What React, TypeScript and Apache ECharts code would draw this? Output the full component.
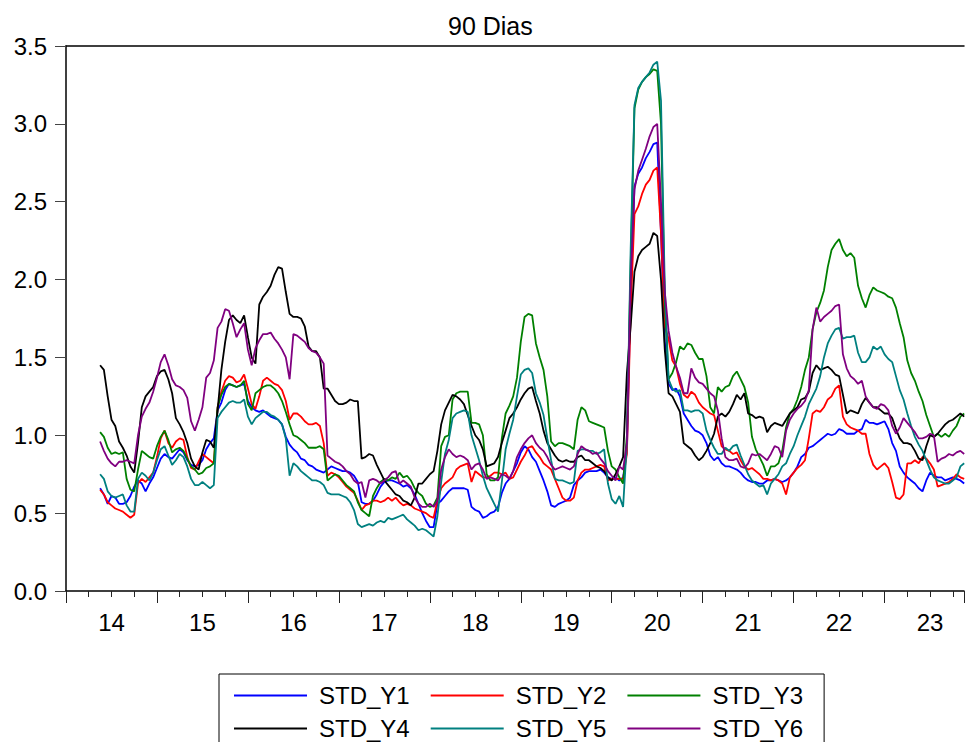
import React, { useEffect, useRef } from "react";
import * as echarts from "echarts";

const TITLE = "90 Dias";
const SERIES_NAMES = ["STD_Y1", "STD_Y2", "STD_Y3", "STD_Y4", "STD_Y5", "STD_Y6"];
const SERIES_COLORS = ["#0000ff", "#ff0000", "#008000", "#000000", "#008080", "#800080"];
const X_TICK_LABELS = ["14", "15", "16", "17", "18", "19", "20", "21", "22", "23"];
const FIRST_YEAR = 2014;
const X_MAX = 2023.873;
// half-month observations starting mid-May 2014
const START = 2014.375;
const STEP = 1 / 24;

const STD_Y1 = [
  0.66, 0.62, 0.56, 0.61, 0.60, 0.56, 0.56, 0.57, 0.61, 0.67,
  0.71, 0.69, 0.64, 0.69, 0.73, 0.79, 0.85, 0.88, 0.86, 0.85,
  0.88, 0.91, 0.89, 0.84, 0.81, 0.80, 0.81, 0.84, 0.91, 0.95,
  0.98, 1.16, 1.21, 1.29, 1.33, 1.32, 1.31, 1.32, 1.33, 1.22,
  1.18, 1.16, 1.15, 1.16, 1.14, 1.12, 1.11, 1.10, 1.07, 0.99,
  0.94, 0.91, 0.89, 0.85, 0.84, 0.81, 0.80, 0.78, 0.77, 0.76,
  0.78, 0.80, 0.79, 0.78, 0.77, 0.77, 0.76, 0.74, 0.70, 0.57,
  0.56, 0.56, 0.58, 0.62, 0.67, 0.70, 0.71, 0.71, 0.70, 0.69,
  0.67, 0.68, 0.66, 0.62, 0.56, 0.50, 0.45, 0.41, 0.41, 0.56,
  0.58, 0.61, 0.64, 0.66, 0.66, 0.66, 0.66, 0.65, 0.54, 0.52,
  0.51, 0.47, 0.48, 0.50, 0.51, 0.54, 0.63, 0.69, 0.72, 0.77,
  0.82, 0.89, 0.93, 0.91, 0.86, 0.83, 0.77, 0.71, 0.64, 0.55,
  0.54, 0.56, 0.57, 0.58, 0.60, 0.68, 0.71, 0.73, 0.76, 0.77,
  0.77, 0.77, 0.78, 0.76, 0.73, 0.72, 0.73, 0.71, 0.73, 0.90,
  1.90, 2.60, 2.68, 2.72, 2.78, 2.82, 2.87, 2.88, 2.30, 1.60,
  1.33, 1.29, 1.30, 1.25, 1.14, 1.10, 1.06, 1.03, 1.02, 1.00,
  0.95, 0.87, 0.84, 0.86, 0.82, 0.80, 0.80, 0.79, 0.78, 0.76,
  0.73, 0.71, 0.70, 0.70, 0.69, 0.69, 0.71, 0.71, 0.72, 0.71,
  0.70, 0.71, 0.73, 0.76, 0.80, 0.86, 0.88, 0.92, 0.93, 0.95,
  0.97, 0.99, 1.01, 1.00, 1.01, 1.04, 1.03, 1.01, 1.01, 1.01,
  1.03, 1.04, 1.10, 1.08, 1.08, 1.07, 1.08, 1.09, 1.04, 0.95,
  0.90, 0.80, 0.76, 0.73, 0.71, 0.69, 0.66, 0.64, 0.71, 0.76,
  0.74, 0.73, 0.73, 0.71, 0.72, 0.73, 0.72, 0.71, 0.69,
];

const STD_Y2 = [
  0.65, 0.62, 0.57, 0.55, 0.53, 0.52, 0.51, 0.49, 0.47, 0.49,
  0.69, 0.72, 0.70, 0.73, 0.76, 0.86, 0.98, 1.03, 0.95, 0.92,
  0.96, 0.98, 0.97, 0.86, 0.79, 0.78, 0.83, 0.88, 0.86, 0.84,
  0.82, 1.18, 1.28, 1.35, 1.38, 1.37, 1.34, 1.35, 1.39, 1.30,
  1.20, 1.17, 1.25, 1.35, 1.37, 1.35, 1.33, 1.32, 1.29, 1.22,
  1.10, 1.14, 1.14, 1.12, 1.09, 1.07, 1.07, 1.08, 1.06, 0.95,
  0.74, 0.76, 0.75, 0.73, 0.70, 0.67, 0.65, 0.63, 0.58, 0.52,
  0.55, 0.56, 0.58, 0.58, 0.57, 0.58, 0.60, 0.58, 0.60, 0.57,
  0.55, 0.56, 0.55, 0.53, 0.52, 0.51, 0.50, 0.48, 0.47, 0.58,
  0.66, 0.69, 0.71, 0.73, 0.78, 0.80, 0.81, 0.82, 0.70, 0.77,
  0.75, 0.73, 0.73, 0.74, 0.76, 0.76, 0.75, 0.76, 0.72, 0.73,
  0.78, 0.83, 0.87, 0.92, 0.93, 0.89, 0.86, 0.82, 0.80, 0.78,
  0.72, 0.66, 0.60, 0.58, 0.58, 0.60, 0.71, 0.76, 0.78, 0.78,
  0.79, 0.80, 0.81, 0.80, 0.71, 0.72, 0.72, 0.72, 0.72, 0.88,
  1.80, 2.42, 2.47, 2.55, 2.61, 2.64, 2.70, 2.72, 2.30, 1.70,
  1.62, 1.48, 1.44, 1.33, 1.26, 1.24, 1.28, 1.26, 1.21, 1.18,
  1.16, 1.14, 1.13, 1.03, 0.93, 0.91, 0.90, 0.88, 0.89, 0.84,
  0.80, 0.78, 0.79, 0.77, 0.75, 0.72, 0.72, 0.71, 0.72, 0.71,
  0.69, 0.62, 0.73, 0.76, 0.79, 0.81, 0.84, 0.98, 1.14, 1.16,
  1.15, 1.18, 1.23, 1.25, 1.30, 1.32, 1.12, 1.07, 1.05, 1.04,
  1.03, 1.01, 1.01, 0.88, 0.81, 0.78, 0.80, 0.82, 0.79, 0.70,
  0.60, 0.59, 0.62, 0.82, 0.82, 0.84, 0.82, 0.86, 0.85, 0.82,
  0.78, 0.67, 0.68, 0.69, 0.70, 0.72, 0.75, 0.73, 0.72,
];

const STD_Y3 = [
  1.02, 0.99, 0.92, 0.88, 0.89, 0.88, 0.89, 0.72, 0.65, 0.64,
  0.78, 0.90, 0.88, 0.86, 0.85, 0.93, 0.99, 1.03, 0.97, 0.89,
  0.91, 0.92, 0.90, 0.85, 0.80, 0.78, 0.75, 0.76, 0.79, 0.80,
  0.82, 1.18, 1.26, 1.31, 1.33, 1.32, 1.31, 1.32, 1.35, 1.20,
  1.16, 1.27, 1.29, 1.31, 1.32, 1.32, 1.30, 1.27, 1.22, 1.15,
  1.07, 1.00, 0.99, 0.97, 0.95, 0.92, 0.92, 0.92, 0.93, 0.91,
  0.71, 0.73, 0.75, 0.74, 0.71, 0.68, 0.66, 0.64, 0.57, 0.52,
  0.50, 0.48, 0.61, 0.66, 0.70, 0.72, 0.71, 0.73, 0.72, 0.76,
  0.73, 0.74, 0.71, 0.66, 0.63, 0.61, 0.56, 0.54, 0.55, 0.60,
  0.93, 0.99, 1.00, 1.23, 1.27, 1.28, 1.28, 1.28, 1.08, 1.08,
  1.07, 1.00, 0.75, 0.71, 0.71, 0.73, 0.98, 1.14, 1.19, 1.25,
  1.37, 1.60, 1.76, 1.78, 1.77, 1.59, 1.50, 1.42, 1.25, 0.96,
  0.93, 0.95, 0.95, 0.94, 0.93, 0.91, 1.10, 1.18, 1.16, 1.09,
  1.08, 1.07, 1.06, 1.05, 0.90, 0.80, 0.78, 0.73, 0.69, 1.00,
  2.10, 3.10, 3.22, 3.27, 3.30, 3.32, 3.35, 3.34, 3.00, 1.85,
  1.36, 1.40, 1.47, 1.57, 1.55, 1.59, 1.58, 1.53, 1.49, 1.49,
  1.38, 1.18, 1.14, 1.31, 1.28, 1.31, 1.32, 1.38, 1.41, 1.36,
  1.31, 1.21, 0.99, 0.91, 0.86, 0.81, 0.74, 0.80, 0.80, 0.82,
  0.90, 1.05, 1.14, 1.17, 1.23, 1.31, 1.42, 1.50, 1.68, 1.79,
  1.85, 1.93, 2.08, 2.19, 2.23, 2.26, 2.19, 2.15, 2.17, 2.14,
  1.96, 1.88, 1.82, 1.90, 1.95, 1.93, 1.92, 1.91, 1.89, 1.88,
  1.82, 1.72, 1.63, 1.48, 1.40, 1.35, 1.28, 1.22, 1.13, 1.06,
  0.99, 1.01, 0.99, 1.01, 0.99, 1.03, 1.06, 1.12, 1.14,
];

const STD_Y4 = [
  1.45, 1.42, 1.25, 1.10, 1.06, 0.96, 0.92, 0.87, 0.80, 0.76,
  0.95, 1.18, 1.25, 1.28, 1.31, 1.38, 1.41, 1.42, 1.36, 1.27,
  1.11, 1.07, 1.02, 0.95, 0.85, 0.80, 0.78, 0.89, 0.97, 0.96,
  0.92, 1.16, 1.42, 1.60, 1.74, 1.77, 1.74, 1.72, 1.77, 1.63,
  1.50, 1.46, 1.84, 1.89, 1.92, 1.96, 2.03, 2.08, 2.07, 1.92,
  1.78, 1.76, 1.76, 1.75, 1.70, 1.57, 1.54, 1.54, 1.50, 1.30,
  1.30, 1.26, 1.22, 1.20, 1.20, 1.21, 1.23, 1.22, 1.22, 0.85,
  0.86, 0.88, 0.87, 0.81, 0.76, 0.71, 0.68, 0.65, 0.62, 0.61,
  0.58, 0.57, 0.55, 0.60, 0.69, 0.69, 0.72, 0.75, 0.77, 0.90,
  1.07, 1.16, 1.21, 1.26, 1.25, 1.23, 1.20, 1.13, 1.06, 1.00,
  0.97, 0.91, 0.80, 0.81, 0.82, 0.86, 0.95, 1.03, 1.11, 1.14,
  1.18, 1.23, 1.27, 1.30, 1.31, 1.22, 1.14, 1.03, 0.95, 0.91,
  0.87, 0.84, 0.83, 0.84, 0.83, 0.83, 0.86, 0.87, 0.84, 0.84,
  0.82, 0.80, 0.79, 0.77, 0.73, 0.71, 0.75, 0.80, 0.86, 1.40,
  1.70, 2.05, 2.15, 2.19, 2.21, 2.23, 2.30, 2.28, 2.00, 1.55,
  1.27, 1.25, 1.20, 1.15, 0.95, 0.93, 0.91, 0.87, 0.84, 0.86,
  0.90, 0.95, 1.01, 1.12, 1.14, 1.12, 1.15, 1.20, 1.26, 1.23,
  1.27, 1.14, 1.13, 1.11, 1.12, 1.11, 1.02, 1.06, 1.08, 1.07,
  1.06, 1.10, 1.14, 1.16, 1.18, 1.23, 1.24, 1.28, 1.40, 1.45,
  1.42, 1.43, 1.44, 1.42, 1.39, 1.38, 1.26, 1.14, 1.16, 1.15,
  1.14, 1.20, 1.24, 1.21, 1.18, 1.18, 1.16, 1.14, 1.14, 1.11,
  1.04, 0.98, 0.95, 0.95, 0.94, 0.90, 0.85, 0.84, 0.93, 1.00,
  0.99, 1.01, 1.04, 1.07, 1.09, 1.10, 1.12, 1.14, 1.12,
];

const STD_Y5 = [
  0.75, 0.72, 0.64, 0.61, 0.60, 0.61, 0.62, 0.55, 0.51, 0.51,
  0.72, 0.76, 0.74, 0.71, 0.76, 0.84, 0.91, 0.93, 0.87, 0.81,
  0.84, 0.88, 0.86, 0.80, 0.72, 0.68, 0.68, 0.70, 0.68, 0.66,
  0.68, 1.11, 1.15, 1.18, 1.21, 1.22, 1.21, 1.21, 1.23, 1.12,
  1.07, 1.11, 1.13, 1.15, 1.15, 1.13, 1.12, 1.10, 1.07, 0.98,
  0.74, 0.82, 0.80, 0.77, 0.75, 0.73, 0.71, 0.71, 0.70, 0.68,
  0.63, 0.62, 0.62, 0.62, 0.61, 0.60, 0.57, 0.52, 0.43, 0.41,
  0.42, 0.43, 0.42, 0.44, 0.45, 0.44, 0.47, 0.46, 0.47, 0.48,
  0.49, 0.46, 0.44, 0.42, 0.39, 0.40, 0.39, 0.37, 0.35, 0.48,
  0.70, 0.88, 0.97, 1.11, 1.14, 1.15, 1.16, 1.15, 1.00, 0.92,
  0.84, 0.74, 0.66, 0.61, 0.56, 0.51, 0.70, 0.91, 1.01, 1.10,
  1.25, 1.39, 1.42, 1.43, 1.40, 1.27, 1.21, 1.13, 0.98, 0.84,
  0.72, 0.71, 0.71, 0.70, 0.69, 0.70, 0.90, 0.91, 0.91, 0.90,
  0.90, 0.88, 0.89, 0.91, 0.69, 0.59, 0.56, 0.61, 0.54, 0.95,
  2.20, 3.12, 3.23, 3.27, 3.30, 3.33, 3.38, 3.40, 3.15, 1.95,
  1.36, 1.30, 1.28, 1.29, 1.16, 1.16, 1.15, 1.16, 1.16, 1.14,
  1.03, 0.97, 0.92, 0.88, 0.88, 0.92, 0.90, 0.93, 0.94, 0.87,
  0.81, 0.75, 0.71, 0.69, 0.67, 0.68, 0.62, 0.69, 0.72, 0.75,
  0.80, 0.82, 0.88, 0.93, 1.00, 1.06, 1.12, 1.20, 1.25, 1.30,
  1.38, 1.50, 1.59, 1.64, 1.68, 1.69, 1.62, 1.63, 1.63, 1.64,
  1.53, 1.47, 1.47, 1.50, 1.57, 1.55, 1.57, 1.52, 1.49, 1.47,
  1.38, 1.29, 1.23, 1.14, 1.06, 0.99, 0.94, 0.90, 0.84, 0.78,
  0.73, 0.71, 0.70, 0.69, 0.69, 0.71, 0.73, 0.80, 0.82,
];

const STD_Y6 = [
  0.96, 0.90, 0.85, 0.82, 0.80, 0.83, 0.83, 0.84, 0.83, 0.82,
  1.00, 1.12, 1.17, 1.21, 1.28, 1.37, 1.47, 1.52, 1.45, 1.36,
  1.32, 1.31, 1.29, 1.24, 1.09, 1.03, 1.10, 1.18, 1.37, 1.40,
  1.48, 1.69, 1.73, 1.81, 1.80, 1.72, 1.63, 1.68, 1.72, 1.55,
  1.45, 1.56, 1.61, 1.65, 1.65, 1.66, 1.62, 1.59, 1.55, 1.50,
  1.36, 1.65, 1.64, 1.62, 1.60, 1.56, 1.54, 1.53, 1.50, 1.46,
  0.87, 0.85, 0.83, 0.82, 0.80, 0.77, 0.75, 0.71, 0.69, 0.70,
  0.60, 0.71, 0.72, 0.71, 0.69, 0.71, 0.73, 0.76, 0.77, 0.69,
  0.71, 0.69, 0.67, 0.60, 0.56, 0.54, 0.54, 0.56, 0.54, 0.58,
  0.78, 0.86, 0.91, 0.88, 0.86, 0.87, 0.86, 0.84, 0.78, 0.81,
  0.82, 0.78, 0.72, 0.73, 0.72, 0.71, 0.75, 0.74, 0.72, 0.77,
  0.86, 0.91, 0.95, 0.98, 1.00, 0.95, 0.92, 0.90, 0.86, 0.81,
  0.78, 0.79, 0.80, 0.79, 0.78, 0.80, 0.88, 0.93, 0.91, 0.90,
  0.88, 0.89, 0.85, 0.82, 0.77, 0.74, 0.71, 0.80, 0.78, 0.95,
  2.00, 2.58, 2.70, 2.77, 2.84, 2.92, 2.98, 3.00, 2.50, 1.92,
  1.67, 1.53, 1.44, 1.37, 1.27, 1.27, 1.43, 1.37, 1.34, 1.33,
  1.30, 1.27, 1.25, 1.16, 0.98, 0.86, 0.84, 0.84, 0.85, 0.80,
  0.79, 0.82, 0.88, 0.87, 0.88, 0.86, 0.84, 0.88, 0.93, 0.92,
  0.86, 1.03, 1.10, 1.14, 1.17, 1.19, 1.22, 1.29, 1.68, 1.82,
  1.73, 1.76, 1.78, 1.80, 1.83, 1.84, 1.52, 1.43, 1.38, 1.36,
  1.33, 1.35, 1.25, 1.21, 1.18, 1.17, 1.20, 1.19, 1.16, 1.06,
  1.01, 1.05, 1.11, 1.08, 1.05, 1.02, 0.98, 0.98, 0.99, 1.01,
  1.00, 0.83, 0.85, 0.86, 0.88, 0.87, 0.89, 0.90, 0.88,
];

const SERIES_VALUES = [STD_Y1, STD_Y2, STD_Y3, STD_Y4, STD_Y5, STD_Y6];

const FONT = "'Liberation Sans', Arial, Helvetica, sans-serif";

export default function App() {
  const ref = useRef<HTMLDivElement>(null);

  useEffect(() => {
    if (!ref.current) return;
    const chart = echarts.init(ref.current, undefined, { renderer: "svg" });

    const axisLineStyle = { color: "#000", width: 1.5 };

    const option: any = {
      animation: false,
      backgroundColor: "#ffffff",
      textStyle: { fontFamily: FONT },
      title: {
        text: TITLE,
        left: 448,
        top: 13,
        padding: 0,
        textStyle: { fontFamily: FONT, fontSize: 25, fontWeight: "normal", color: "#000" },
      },
      grid: { left: 66, right: 0, top: 46, bottom: 151, containLabel: false },
      legend: {
        data: SERIES_NAMES.map((name) => ({ name, icon: "rect" })),
        left: 219,
        top: 674,
        width: 640,
        orient: "horizontal",
        padding: [5, 0, 12, 15],
        itemGap: 0,
        itemWidth: 73,
        itemHeight: 2,
        borderColor: "#000",
        borderWidth: 1,
        selectedMode: false,
        textStyle: {
          fontFamily: FONT,
          fontSize: 24,
          color: "#000",
          lineHeight: 33,
          padding: [0, 21, 0, 7],
        },
      },
      xAxis: [
        {
          type: "value",
          position: "bottom",
          min: FIRST_YEAR,
          max: X_MAX,
          interval: 0.25,
          axisLine: { show: true, onZero: false, lineStyle: axisLineStyle },
          axisTick: { show: true, length: 6, inside: false, lineStyle: { color: "#222", width: 1 } },
          axisLabel: {
            show: true,
            margin: 19,
            fontSize: 24,
            fontFamily: FONT,
            color: "#000",
            showMinLabel: true,
            showMaxLabel: true,
            formatter: (v: number) => {
              const frac = v - Math.floor(v);
              if (Math.abs(frac - 0.5) < 1e-6) {
                const idx = Math.floor(v) - FIRST_YEAR;
                return X_TICK_LABELS[idx] ?? "";
              }
              return "";
            },
          },
          splitLine: { show: false },
        },
        {
          type: "value",
          position: "bottom",
          min: FIRST_YEAR,
          max: X_MAX,
          interval: 1,
          axisLine: { show: false, onZero: false },
          axisTick: { show: true, length: 12, inside: false, lineStyle: { color: "#222", width: 1 } },
          axisLabel: { show: false },
          splitLine: { show: false },
        },
        {
          type: "value",
          position: "top",
          min: FIRST_YEAR,
          max: X_MAX,
          axisLine: { show: true, onZero: false, lineStyle: axisLineStyle },
          axisTick: { show: false },
          axisLabel: { show: false },
          splitLine: { show: false },
        },
      ],
      yAxis: {
        type: "value",
        position: "left",
        min: 0,
        max: 3.5,
        interval: 0.5,
        axisLine: { show: true, onZero: false, lineStyle: axisLineStyle },
        axisTick: { show: true, length: 11, inside: false, lineStyle: { color: "#444", width: 1 } },
        axisLabel: {
          margin: 19,
          fontSize: 24,
          fontFamily: FONT,
          color: "#000",
          formatter: (v: number) => v.toFixed(1),
        },
        splitLine: { show: false },
      },
      series: SERIES_NAMES.map((name, s) => ({
        name,
        type: "line",
        xAxisIndex: 0,
        yAxisIndex: 0,
        symbol: "none",
        showSymbol: false,
        silent: true,
        lineStyle: { color: SERIES_COLORS[s], width: 1.8 },
        itemStyle: { color: SERIES_COLORS[s] },
        data: SERIES_VALUES[s].map((v, i) => [START + i * STEP, v]),
      })),
    };

    chart.setOption(option);
    return () => {
      chart.dispose();
    };
  }, []);

  return (
    <div
      ref={ref}
      style={{ position: "absolute", left: 0, top: 0, width: 967, height: 742, background: "#fff" }}
    />
  );
}
